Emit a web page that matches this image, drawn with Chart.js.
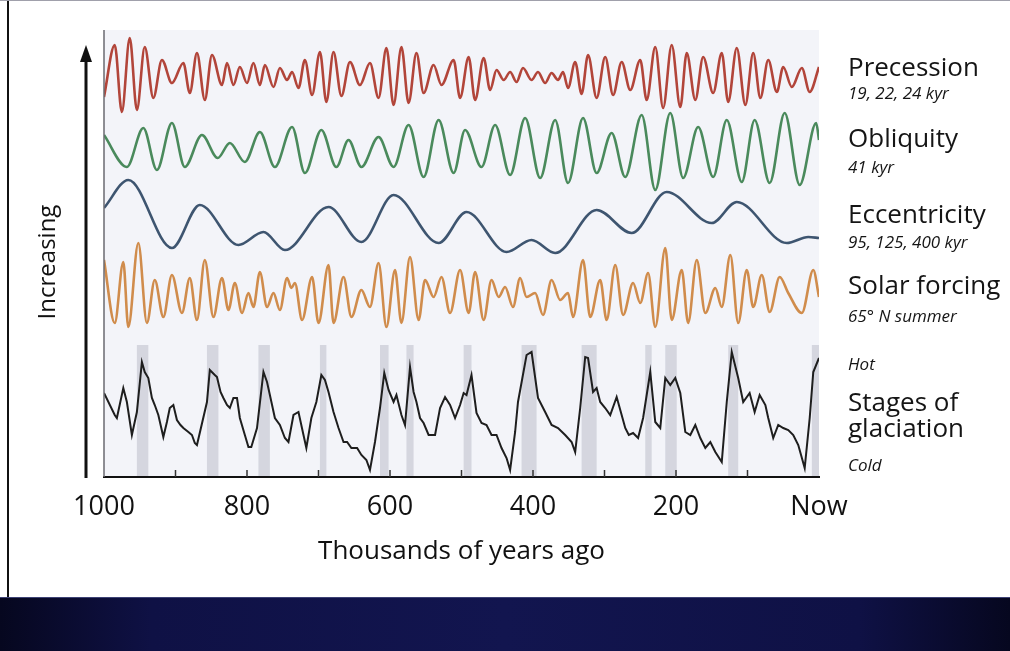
<!DOCTYPE html>
<html>
<head>
<meta charset="utf-8">
<title>Orbital cycles and glaciation</title>
<script src="https://cdn.jsdelivr.net/npm/chart.js@4.4.1/dist/chart.umd.min.js"></script>
<style>
  html, body { margin: 0; padding: 0; background: #fff; }
  #wrap { width: 1010px; height: 651px; }
</style>
</head>
<body>
<div id="wrap"><canvas id="chart" width="1010" height="651"></canvas></div>
<script>
var precAge = [1000,985,975,964,954,943,931,919,905,889,880,870,859,849,835,828,819,810,800,791,782,775,763,754,744,737,728,719,709,698,689,679,668,656,642,628,616,605,595,584,574,563,553,539,528,511,502,490,481,469,460,451,441,432,423,414,402,393,383,374,365,358,351,341,332,323,311,299,288,276,264,250,241,229,218,206,194,185,173,162,148,136,127,115,103,92,82,71,59,50,38,24,13,0];
var precVal = [-22,30,-37,37,-35,28,-23,15,-8,12,-18,22,-25,20,-10,12,-10,8,-8,12,-10,10,-12,7,-5,3,-13,15,-20,23,-27,23,-21,13,-10,12,-23,27,-30,28,-28,22,-18,10,-10,15,-23,18,-25,17,-15,5,-5,3,-7,7,-5,3,-8,2,-5,3,-13,13,-19,20,-23,18,-20,13,-15,15,-25,28,-33,30,-32,22,-25,18,-18,22,-27,27,-30,22,-23,15,-17,8,-12,7,-17,8];

var oblAge = [1000,968,945,926,905,887,863,841,824,803,782,761,737,719,696,675,658,640,616,595,574,553,532,511,495,472,453,432,411,390,369,351,330,311,290,271,248,229,208,190,169,148,129,108,90,69,48,27,4,0];
var oblVal = [15,-17,22,-20,27,-17,15,-8,7,-12,18,-17,23,-23,20,-17,10,-17,13,-17,25,-27,30,-23,20,-17,25,-25,32,-28,30,-33,32,-23,17,-27,35,-40,37,-28,23,-27,30,-32,30,-33,37,-35,27,10];

var eccAge = [1000,966,905,866,812,777,747,686,640,595,532,493,437,402,369,311,262,213,150,115,45,15,0];
var eccVal = [14,42,-26,17,-23,-10,-28,15,-20,27,-21,10,-30,-18,-31,12,-11,30,-1,20,-21,-15,-16];

var solAge = [1000,985,973,966,952,940,929,917,905,891,880,870,859,847,835,826,817,807,798,791,782,772,763,754,744,738,733,723,709,700,686,679,665,654,640,628,616,605,593,584,572,560,551,539,528,516,502,490,481,469,458,448,439,428,418,409,397,386,374,362,351,344,330,320,306,297,285,274,260,250,239,229,215,206,192,183,171,159,145,136,124,113,101,92,80,69,55,43,24,8,0];
var solVal = [33,-30,31,-34,50,-30,13,-24,18,-20,15,-27,33,-24,15,-17,10,-20,0,-14,21,-14,0,-17,15,5,10,-27,16,-30,28,-30,16,-24,3,-14,30,-34,23,-30,36,-27,13,-4,16,-20,23,-20,21,-27,13,-4,6,-14,15,-4,0,-22,13,-7,0,-24,33,-24,13,-27,28,-22,10,-10,20,-34,45,-27,23,-30,33,-20,5,-14,38,-30,23,-14,18,-19,16,0,-20,23,-4];

var glacAge = [1000,985,982,973,968,961,954,947,943,938,933,929,924,917,912,908,903,898,893,889,882,877,873,870,856,852,845,842,837,833,828,824,819,814,810,803,798,794,786,777,772,768,761,754,747,742,735,728,721,717,710,703,696,691,686,679,672,665,660,654,646,640,633,628,621,614,608,602,595,591,584,579,572,567,563,558,553,546,537,530,523,516,509,502,497,493,486,479,472,465,458,451,444,437,432,425,421,409,402,393,383,374,365,355,346,341,334,327,323,316,311,306,299,292,283,276,271,266,260,253,246,236,229,222,215,208,201,194,187,180,173,166,159,152,145,136,129,122,113,106,97,90,83,75,71,64,57,50,43,36,29,20,13,8,0];
var glacVal = [77,55,52,82,68,35,58,108,98,92,72,65,55,33,48,62,65,50,45,42,38,35,27,25,68,100,95,93,78,72,65,62,72,72,52,35,23,23,42,98,88,75,52,45,32,28,55,58,35,22,52,68,95,90,78,58,42,28,28,22,22,15,10,0,28,62,97,80,68,75,55,45,103,78,68,52,47,35,35,62,73,65,52,65,77,75,95,57,47,45,35,35,22,12,0,38,68,115,118,72,58,45,42,35,28,18,62,113,112,78,82,68,62,55,73,55,42,35,37,32,52,98,48,42,92,85,92,77,38,35,45,32,22,28,18,8,68,118,92,68,77,58,75,65,52,32,45,42,40,35,25,2,52,98,112];

// warm stages, shaded in the glaciation panel [from, to] kyr ago
var interglacials = [[954,938],[856,840],[784,768],[698,689],[614,602],[577,567],[497,486],[416,395],[332,311],[243,234],[215,199],[127,113],[10,0]];

var xTicks = [1000, 800, 600, 400, 200, 0];
var tickLabels = ['1000', '800', '600', '400', '200', 'Now'];

var seriesLabels = [
  { name: 'Precession', sub: '19, 22, 24 kyr' },
  { name: 'Obliquity', sub: '41 kyr' },
  { name: 'Eccentricity', sub: '95, 125, 400 kyr' },
  { name: 'Solar forcing', sub: '65\u00b0 N summer' }
];

// layout
var PLOT_TOP = 30, PLOT_BOTTOM = 477;
var FONT = '"Open Sans", "DejaVu Sans", sans-serif';

var bandScale = function(zeroPx) {
  return { display: false, min: -(PLOT_BOTTOM - zeroPx), max: zeroPx - PLOT_TOP };
};

var toPoints = function(ages, vals) {
  return ages.map(function(a, i) { return { x: a, y: vals[i] }; });
};

var decor = {
  id: 'decor',
  beforeDraw: function(chart) {
    var ctx = chart.ctx, a = chart.chartArea;
    var x = chart.scales.x, yg = chart.scales.yGlac;
    ctx.save();
    ctx.fillStyle = '#fff';
    ctx.fillRect(0, 0, chart.width, chart.height);
    ctx.fillStyle = '#f3f4f9';
    ctx.fillRect(a.left, a.top, a.right - a.left, a.bottom - a.top);

    // shaded warm stages
    var top = yg.getPixelForValue(125);
    ctx.fillStyle = 'rgba(168,170,184,0.4)';
    interglacials.forEach(function(b) {
      var x1 = x.getPixelForValue(b[0]), x2 = x.getPixelForValue(b[1]);
      ctx.fillRect(x1, top, x2 - x1, a.bottom - top);
    });

    // dark strip at the bottom
    var g = ctx.createLinearGradient(0, 0, chart.width, 0);
    g.addColorStop(0, '#06071f');
    g.addColorStop(0.15, '#0f1145');
    g.addColorStop(0.5, '#12154f');
    g.addColorStop(0.85, '#0f1145');
    g.addColorStop(1, '#06071f');
    ctx.fillStyle = g;
    ctx.fillRect(0, 597, chart.width, chart.height - 597);
    ctx.fillStyle = '#3d4275';
    ctx.fillRect(0, 597, chart.width, 1);

    // frame
    ctx.fillStyle = '#111';
    ctx.fillRect(7, 0, 2, 597);
    ctx.fillStyle = '#a0a0ab';
    ctx.fillRect(0, 0, chart.width, 1);
    ctx.restore();
  },
  afterDraw: function(chart) {
    var ctx = chart.ctx, a = chart.chartArea, x = chart.scales.x;
    ctx.save();

    // left frame line of the panel
    ctx.strokeStyle = '#6a6a70';
    ctx.lineWidth = 1.5;
    ctx.beginPath();
    ctx.moveTo(a.left, a.top);
    ctx.lineTo(a.left, a.bottom);
    ctx.stroke();

    // minor ticks every 100 kyr
    ctx.strokeStyle = '#333';
    ctx.lineWidth = 1.5;
    for (var k = 100; k < 1000; k += 100) {
      var px = x.getPixelForValue(k);
      ctx.beginPath();
      ctx.moveTo(px, a.bottom);
      ctx.lineTo(px, a.bottom - 7);
      ctx.stroke();
    }

    // "Increasing" arrow
    ctx.strokeStyle = '#111';
    ctx.fillStyle = '#111';
    ctx.lineWidth = 3;
    ctx.beginPath();
    ctx.moveTo(86, a.bottom + 1);
    ctx.lineTo(86, 58);
    ctx.stroke();
    ctx.beginPath();
    ctx.moveTo(86, 45);
    ctx.lineTo(80, 62);
    ctx.lineTo(92, 62);
    ctx.closePath();
    ctx.fill();

    ctx.save();
    ctx.translate(48, 262);
    ctx.rotate(-Math.PI / 2);
    ctx.textAlign = 'center';
    ctx.textBaseline = 'middle';
    ctx.font = '24px ' + FONT;
    ctx.fillText('Increasing', 0, 0);
    ctx.restore();

    // right-hand labels
    var lx = 848;
    var nameY = [76, 147, 223, 294];
    var subY = [99, 173, 248, 322];
    ctx.textAlign = 'left';
    ctx.textBaseline = 'alphabetic';
    ctx.fillStyle = '#151515';
    seriesLabels.forEach(function(s, i) {
      ctx.font = '26px ' + FONT;
      ctx.fillText(s.name, lx, nameY[i]);
      ctx.font = 'italic 17px ' + FONT;
      ctx.fillText(s.sub, lx, subY[i]);
    });
    ctx.font = 'italic 17px ' + FONT;
    ctx.fillText('Hot', lx, 370);
    ctx.fillText('Cold', lx, 471);
    ctx.font = '26px ' + FONT;
    ctx.fillText('Stages of', lx, 411);
    ctx.fillText('glaciation', lx, 437);
    ctx.restore();
  }
};

var wave = function(label, ages, vals, color, axis) {
  return {
    label: label,
    data: toPoints(ages, vals),
    yAxisID: axis,
    borderColor: color,
    borderWidth: 2.6,
    cubicInterpolationMode: 'monotone',
    pointRadius: 0,
    fill: false
  };
};

var glacSet = {
  label: 'Stages of glaciation',
  data: toPoints(glacAge, glacVal),
  yAxisID: 'yGlac',
  borderColor: '#1e1e1e',
  borderWidth: 2,
  tension: 0,
  pointRadius: 0,
  fill: false
};

new Chart(document.getElementById('chart'), {
  type: 'line',
  data: {
    datasets: [
      wave('Precession', precAge, precVal, '#b2453a', 'yPrec'),
      wave('Obliquity', oblAge, oblVal, '#4a8a5c', 'yObl'),
      wave('Eccentricity', eccAge, eccVal, '#3e5570', 'yEcc'),
      wave('Solar forcing', solAge, solVal, '#d08c4c', 'ySol'),
      glacSet
    ]
  },
  options: {
    responsive: false,
    animation: false,
    layout: { padding: { left: 104, right: 191, top: PLOT_TOP, bottom: 54 } },
    plugins: { legend: { display: false }, tooltip: { enabled: false } },
    scales: {
      x: {
        type: 'linear',
        reverse: true,
        min: 0,
        max: 1000,
        afterBuildTicks: function(scale) {
          scale.ticks = xTicks.map(function(v) { return { value: v }; });
        },
        afterFit: function(scale) { scale.height = 120; },
        ticks: {
          autoSkip: false,
          maxRotation: 0,
          padding: 14,
          color: '#111',
          font: { family: FONT, size: 27 },
          callback: function(v) { return tickLabels[xTicks.indexOf(v)]; }
        },
        grid: { display: false, drawTicks: false },
        border: { display: true, color: '#111', width: 2 },
        title: {
          display: true,
          text: 'Thousands of years ago',
          color: '#111',
          font: { family: FONT, size: 26 },
          padding: { top: 0, bottom: 30 }
        }
      },
      yPrec: bandScale(75),
      yObl: bandScale(150),
      yEcc: bandScale(222),
      ySol: bandScale(293),
      yGlac: bandScale(470)
    }
  },
  plugins: [decor]
});
</script>
</body>
</html>
